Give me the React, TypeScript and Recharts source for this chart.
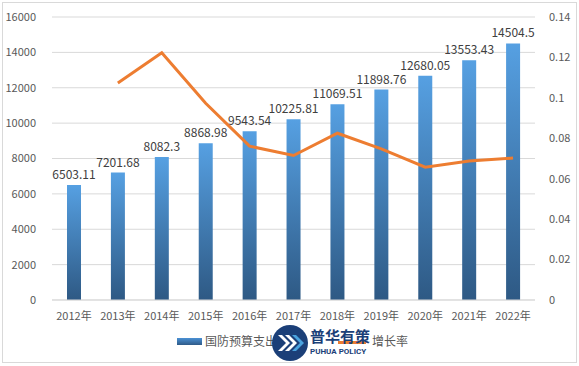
import React from 'react';
import {
  ComposedChart,
  Bar,
  Line,
  XAxis,
  YAxis,
  CartesianGrid,
  LabelList,
  Legend
} from 'recharts';

const years = ['2012年', '2013年', '2014年', '2015年', '2016年', '2017年', '2018年', '2019年', '2020年', '2021年', '2022年'];
const budget = [6503.11, 7201.68, 8082.3, 8868.98, 9543.54, 10225.81, 11069.51, 11898.76, 12680.05, 13553.43, 14504.5];
const growth = [null, 0.1074, 0.1223, 0.0973, 0.0761, 0.0715, 0.0825, 0.0748, 0.0657, 0.0688, 0.0702];
const leftTicks = [0, 2000, 4000, 6000, 8000, 10000, 12000, 14000, 16000];
const rightTicks = [0, 0.02, 0.04, 0.06, 0.08, 0.1, 0.12, 0.14];

const data = years.map((year, i) => ({ year, budget: budget[i], growth: growth[i] }));

const FONT = '"Noto Sans CJK SC", "Noto Sans", sans-serif';
const tickStyle = { fill: '#595959', fontSize: 11, fontFamily: FONT };

// legend plus the watermark logo that sits over it
const LegendBox = () => (
  <div style={{ position: 'relative', height: 24, fontFamily: FONT, fontSize: 12, color: '#595959' }}>
    <div style={{ position: 'absolute', left: 177, top: 8, width: 25, height: 7, background: 'linear-gradient(#4a90d4, #2f5b88)' }} />
    <div style={{ position: 'absolute', left: 205, top: 2 }}>国防预算支出</div>
    <div style={{ position: 'absolute', left: 338, top: 11, width: 28, height: 3, background: '#ed7d31' }} />
    <div style={{ position: 'absolute', left: 372, top: 2 }}>增长率</div>
    <svg style={{ position: 'absolute', left: 270, top: -8 }} width={110} height={40}>
      <circle cx={20} cy={21} r={18} fill="#1b3f78" />
      <path d="M8 13 L16 21 L8 29 L12 29 L20 21 L12 13 Z" fill="#ffffff" />
      <path d="M15 13 L23 21 L15 29 L19 29 L27 21 L19 13 Z" fill="#ffffff" />
      <path d="M22 13 L30 21 L22 29 L26 29 L34 21 L26 13 Z" fill="#4aa3df" />
      <text x={40} y={20} fontSize={15} fontWeight={700} fill="#1b3f78" fontFamily={FONT}>普华有策</text>
      <text x={40} y={32} fontSize={8} fontWeight={700} fill="#1b3f78" fontFamily="Roboto, sans-serif">PUHUA POLICY</text>
    </svg>
  </div>
);

export default function App() {
  return (
    <div style={{ position: 'relative', width: 579, height: 366, background: '#fff' }}>
      <style>{'body{margin:0}'}</style>
      <div style={{ position: 'absolute', left: 2, top: 2, width: 573, height: 359, border: '1px solid #d9d9d9' }} />
      <ComposedChart
        width={579}
        height={366}
        data={data}
        margin={{ top: 17, right: 0, left: 0, bottom: 6 }}
        barCategoryGap="34%"
      >
        <defs>
          <linearGradient id="barGrad" x1="0" y1="0" x2="0" y2="1">
            <stop offset="0%" stopColor="#56a0e2" />
            <stop offset="100%" stopColor="#2e5984" />
          </linearGradient>
        </defs>
        <CartesianGrid vertical={false} stroke="#d9d9d9" yAxisId="left" />
        <XAxis
          dataKey="year"
          tick={tickStyle}
          tickLine={false}
          axisLine={{ stroke: '#d9d9d9' }}
          height={30}
          tickMargin={6}
        />
        <YAxis
          yAxisId="left"
          domain={[0, 16000]}
          ticks={leftTicks}
          tick={tickStyle}
          tickLine={false}
          axisLine={false}
          width={52}
          tickMargin={10}
        />
        <YAxis
          yAxisId="right"
          orientation="right"
          domain={[0, 0.14]}
          ticks={rightTicks}
          tick={tickStyle}
          tickLine={false}
          axisLine={false}
          width={44}
          tickMargin={8}
          textAnchor="start"
        />
        <Bar yAxisId="left" dataKey="budget" fill="url(#barGrad)" barSize={14} isAnimationActive={false}>
          <LabelList dataKey="budget" position="top" offset={6} style={{ fill: '#404040', fontSize: 12, fontFamily: FONT }} />
        </Bar>
        <Line
          yAxisId="right"
          dataKey="growth"
          stroke="#ed7d31"
          strokeWidth={3}
          dot={false}
          isAnimationActive={false}
          connectNulls={false}
        />
        <Legend content={<LegendBox />} verticalAlign="bottom" height={30} />
      </ComposedChart>
    </div>
  );
}
